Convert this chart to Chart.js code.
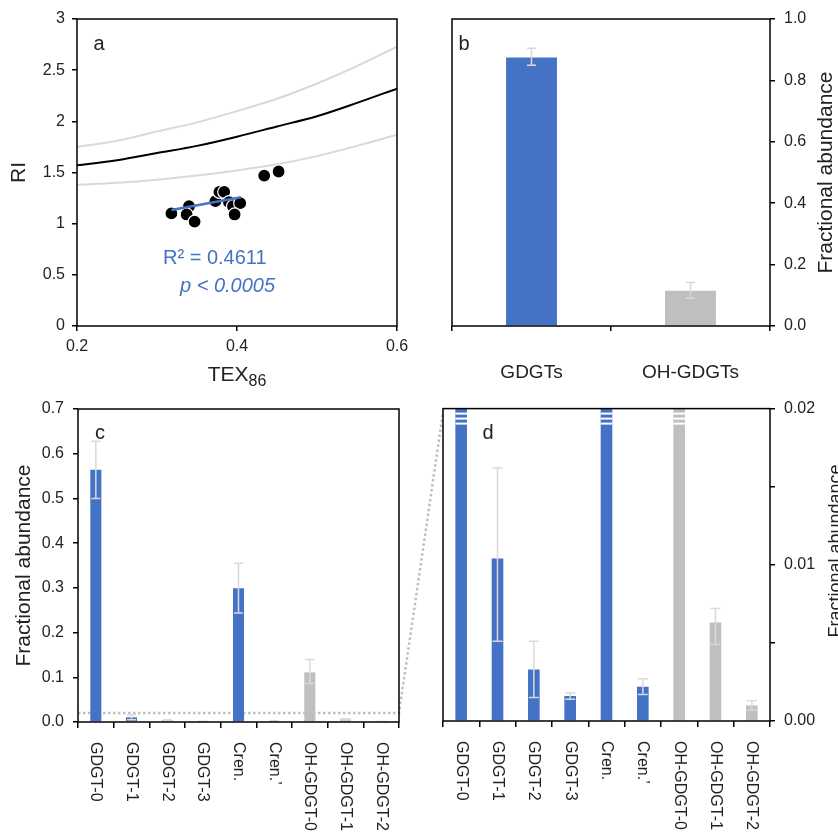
<!DOCTYPE html>
<html>
<head>
<meta charset="utf-8">
<script src="https://cdn.jsdelivr.net/npm/chart.js@4.4.1/dist/chart.umd.min.js"></script>
<style>
  body { margin: 0; background: #fff; }
  #fig { position: relative; width: 838px; height: 832px; overflow: hidden; }
  canvas { position: absolute; }
</style>
</head>
<body>
<div id="fig">
  <canvas id="panelA" width="420" height="390" style="left:0;top:0"></canvas>
  <canvas id="panelB" width="418" height="390" style="left:420px;top:0"></canvas>
  <canvas id="panelC" width="446" height="442" style="left:0;top:390px"></canvas>
  <canvas id="panelD" width="408" height="442" style="left:430px;top:390px"></canvas>
</div>
<script>
// (a) RI vs TEX86
const texGrid      = [0.20, 0.25, 0.30, 0.35, 0.40, 0.45, 0.50, 0.55, 0.60];
const riCurve      = [1.57, 1.62, 1.69, 1.76, 1.85, 1.95, 2.05, 2.18, 2.32];
const riCurveUpper = [1.75, 1.81, 1.90, 1.99, 2.10, 2.22, 2.37, 2.54, 2.73];
const riCurveLower = [1.38, 1.40, 1.43, 1.47, 1.52, 1.58, 1.66, 1.76, 1.87];
const sampleTex = [0.318, 0.340, 0.337, 0.347, 0.373, 0.378, 0.384, 0.390, 0.395, 0.404, 0.397, 0.434, 0.452];
const sampleRi  = [1.10, 1.17, 1.09, 1.02, 1.22, 1.31, 1.31, 1.21, 1.17, 1.20, 1.09, 1.47, 1.51];
const fitTex = [0.318, 0.405];
const fitRi  = [1.133, 1.258];

// (b) GDGTs vs OH-GDGTs
const groupLabels = ["GDGTs", "OH-GDGTs"];
const groupMean = [0.875, 0.115];
const groupLow  = [0.849, 0.090];
const groupHigh = [0.905, 0.142];

// (c)/(d) individual compounds
const compounds = ["GDGT-0", "GDGT-1", "GDGT-2", "GDGT-3", "Cren.", "Cren.\u2019", "OH-GDGT-0", "OH-GDGT-1", "OH-GDGT-2"];
const compoundMean = [0.564, 0.0104, 0.0033, 0.0016, 0.299, 0.0022, 0.111, 0.0063, 0.0010];
const compoundLow  = [0.500, 0.0051, 0.0015, 0.0014, 0.244, 0.0017, 0.086, 0.0049, 0.0007];
const compoundHigh = [0.628, 0.0162, 0.0051, 0.0018, 0.355, 0.0027, 0.140, 0.0072, 0.0013];
const zoomMax = 0.02;

const BLUE = "#4472C4", GREY = "#BFBFBF", ERR = "#D9D9D9", INK = "#222";
const FONT = "'Liberation Sans', Arial, sans-serif";

Chart.defaults.font.family = FONT;
Chart.defaults.color = INK;
Chart.defaults.animation = false;
Chart.defaults.plugins.legend.display = false;
Chart.defaults.plugins.tooltip.enabled = false;

const barColors = compounds.map(c => c.startsWith("OH") ? GREY : BLUE);
const xy = (xs, ys) => xs.map((x, i) => ({ x, y: ys[i] }));

function tickGrid(offset) {
  return { display: true, drawOnChartArea: false, drawTicks: true, tickLength: 5, color: "#000", lineWidth: 1.5, offset };
}

function frame() {
  return {
    id: "frame",
    afterDraw(chart) {
      const { ctx, chartArea: a } = chart;
      ctx.save();
      ctx.strokeStyle = "#000";
      ctx.lineWidth = 1.5;
      ctx.strokeRect(a.left, a.top, a.right - a.left, a.bottom - a.top);
      ctx.restore();
    }
  };
}

function errorBars(low, high, cap) {
  return {
    id: "errorBars",
    afterDatasetsDraw(chart) {
      const { ctx, chartArea: a } = chart;
      const y = chart.scales.y;
      ctx.save();
      ctx.beginPath();
      ctx.rect(a.left, a.top, a.right - a.left, a.bottom - a.top);
      ctx.clip();
      ctx.strokeStyle = ERR;
      ctx.lineWidth = 1.5;
      chart.getDatasetMeta(0).data.forEach((bar, i) => {
        const lo = y.getPixelForValue(low[i]), hi = y.getPixelForValue(high[i]);
        ctx.beginPath();
        ctx.moveTo(bar.x, lo); ctx.lineTo(bar.x, hi);
        ctx.moveTo(bar.x - cap, lo); ctx.lineTo(bar.x + cap, lo);
        ctx.moveTo(bar.x - cap, hi); ctx.lineTo(bar.x + cap, hi);
        ctx.stroke();
      });
      ctx.restore();
    }
  };
}

// category names written downwards under each bar
function downLabels(labels, gap) {
  return {
    id: "downLabels",
    afterDraw(chart) {
      const { ctx } = chart;
      const x = chart.scales.x, bottom = chart.chartArea.bottom;
      ctx.save();
      ctx.font = "16px " + FONT;
      ctx.fillStyle = INK;
      ctx.textAlign = "left";
      ctx.textBaseline = "middle";
      labels.forEach((t, i) => {
        ctx.save();
        ctx.translate(x.getPixelForValue(i), bottom + gap);
        ctx.rotate(Math.PI / 2);
        ctx.fillText(t, 0, 0);
        ctx.restore();
      });
      ctx.restore();
    }
  };
}

function sideTitle(ctx, text, x, y, size) {
  ctx.save();
  ctx.font = size + "px " + FONT;
  ctx.fillStyle = INK;
  ctx.textAlign = "center";
  ctx.textBaseline = "middle";
  ctx.translate(x, y);
  ctx.rotate(-Math.PI / 2);
  ctx.fillText(text, 0, 0);
  ctx.restore();
}

function panelLetter(ctx, text, x, y) {
  ctx.save();
  ctx.font = "20px " + FONT;
  ctx.fillStyle = INK;
  ctx.textAlign = "center";
  ctx.textBaseline = "middle";
  ctx.fillText(text, x, y);
  ctx.restore();
}

// ---- panel a ----
new Chart(document.getElementById("panelA"), {
  type: "scatter",
  data: {
    datasets: [
      { type: "line", data: xy(fitTex, fitRi), borderColor: BLUE, borderWidth: 2.5, pointRadius: 0 },
      { data: xy(sampleTex, sampleRi), pointRadius: 6.5, backgroundColor: "#000", borderColor: "#fff", borderWidth: 1.2 },
      { type: "line", data: xy(texGrid, riCurve), borderColor: "#000", borderWidth: 2, pointRadius: 0, cubicInterpolationMode: "monotone" },
      { type: "line", data: xy(texGrid, riCurveUpper), borderColor: ERR, borderWidth: 2, pointRadius: 0, cubicInterpolationMode: "monotone" },
      { type: "line", data: xy(texGrid, riCurveLower), borderColor: ERR, borderWidth: 2, pointRadius: 0, cubicInterpolationMode: "monotone" }
    ]
  },
  options: {
    responsive: false,
    layout: { padding: { left: 0, top: 19, right: 23, bottom: 0 } },
    scales: {
      x: {
        type: "linear", min: 0.2, max: 0.6,
        ticks: { stepSize: 0.2, font: { size: 16 }, padding: 6, callback: v => String(+v.toFixed(1)) },
        grid: tickGrid(false), border: { display: false },
        afterFit: s => { s.height = 64; }
      },
      y: {
        min: 0, max: 3,
        ticks: { stepSize: 0.5, font: { size: 16 }, padding: 7, callback: v => String(+v.toFixed(1)) },
        grid: tickGrid(false), border: { display: false },
        afterFit: s => { s.width = 77; }
      }
    }
  },
  plugins: [frame(), {
    id: "textA",
    afterDraw(chart) {
      const { ctx, chartArea: a } = chart;
      panelLetter(ctx, "a", a.left + 22, a.top + 25);
      sideTitle(ctx, "RI", 19, (a.top + a.bottom) / 2, 21);
      // TEX86 with subscript
      ctx.save();
      ctx.fillStyle = INK;
      ctx.textBaseline = "alphabetic";
      ctx.textAlign = "left";
      ctx.font = "21px " + FONT;
      const w1 = ctx.measureText("TEX").width;
      ctx.font = "16px " + FONT;
      const w2 = ctx.measureText("86").width;
      const x0 = (a.left + a.right) / 2 - (w1 + w2) / 2;
      ctx.font = "21px " + FONT;
      ctx.fillText("TEX", x0, 381);
      ctx.font = "16px " + FONT;
      ctx.fillText("86", x0 + w1, 386);
      // regression statistics
      ctx.fillStyle = BLUE;
      ctx.font = "20px " + FONT;
      ctx.textBaseline = "middle";
      ctx.fillText("R\u00B2 = 0.4611", 163, 258);
      ctx.font = "italic 20px " + FONT;
      ctx.fillText("p < 0.0005", 180, 286);
      ctx.restore();
    }
  }]
});

// ---- panel b ----
new Chart(document.getElementById("panelB"), {
  type: "bar",
  data: {
    labels: groupLabels,
    datasets: [{ data: groupMean, backgroundColor: [BLUE, GREY], barPercentage: 0.32, categoryPercentage: 1 }]
  },
  options: {
    responsive: false,
    layout: { padding: { left: 32, top: 19, right: 0, bottom: 0 } },
    scales: {
      x: {
        ticks: { font: { size: 19 }, padding: 30 },
        grid: tickGrid(true), border: { display: false },
        afterFit: s => { s.height = 64; }
      },
      y: {
        position: "right", min: 0, max: 1,
        ticks: { stepSize: 0.2, font: { size: 16 }, padding: 9, callback: v => v.toFixed(1) },
        grid: tickGrid(false), border: { display: false },
        afterFit: s => { s.width = 68; }
      }
    }
  },
  plugins: [errorBars(groupLow, groupHigh, 4.5), frame(), {
    id: "textB",
    afterDraw(chart) {
      const { ctx, chartArea: a } = chart;
      panelLetter(ctx, "b", a.left + 12, a.top + 25);
      sideTitle(ctx, "Fractional abundance", 406, (a.top + a.bottom) / 2, 21);
    }
  }]
});

// ---- panel d (zoomed view of c, bars above zoomMax are broken) ----
const dChart = new Chart(document.getElementById("panelD"), {
  type: "bar",
  data: {
    labels: compounds,
    datasets: [{ data: compoundMean, backgroundColor: barColors, barPercentage: 0.32, categoryPercentage: 1 }]
  },
  options: {
    responsive: false,
    layout: { padding: { left: 13, top: 18, right: 0, bottom: 0 } },
    scales: {
      x: {
        ticks: { display: false },
        grid: Object.assign(tickGrid(true), { tickLength: 6 }), border: { display: false },
        afterFit: s => { s.height = 111; }
      },
      y: {
        position: "right", min: 0, max: zoomMax,
        ticks: { stepSize: 0.005, font: { size: 16 }, padding: 9, callback: (v, i) => i % 2 ? "" : v.toFixed(2) },
        grid: tickGrid(false), border: { display: false },
        afterFit: s => { s.width = 68; }
      }
    }
  },
  plugins: [errorBars(compoundLow, compoundHigh, 5), {
    id: "breakMarks",
    afterDatasetsDraw(chart) {
      const { ctx, chartArea: a } = chart;
      const max = chart.scales.y.max;
      ctx.save();
      ctx.fillStyle = "#fff";
      chart.getDatasetMeta(0).data.forEach((bar, i) => {
        if (compoundMean[i] <= max) return;
        [4, 9, 14].forEach(off => ctx.fillRect(bar.x - bar.width / 2, a.top + off, bar.width, 2));
      });
      ctx.restore();
    }
  }, frame(), downLabels(compounds, 20), {
    id: "textD",
    afterDraw(chart) {
      const { ctx, chartArea: a } = chart;
      panelLetter(ctx, "d", a.left + 45, a.top + 25);
      sideTitle(ctx, "Fractional abundance", 406, 161, 18);
    }
  }]
});

// ---- panel c ----
new Chart(document.getElementById("panelC"), {
  type: "bar",
  data: {
    labels: compounds,
    datasets: [{ data: compoundMean, backgroundColor: barColors, barPercentage: 0.31, categoryPercentage: 1 }]
  },
  options: {
    responsive: false,
    layout: { padding: { left: 0, top: 19, right: 47, bottom: 0 } },
    scales: {
      x: {
        ticks: { display: false },
        grid: Object.assign(tickGrid(true), { tickLength: 6 }), border: { display: false },
        afterFit: s => { s.height = 110; }
      },
      y: {
        min: 0, max: 0.7,
        ticks: { stepSize: 0.1, font: { size: 16 }, padding: 9, callback: v => v.toFixed(1) },
        grid: tickGrid(false), border: { display: false },
        afterFit: s => { s.width = 78; }
      }
    }
  },
  plugins: [{
    // dotted guide at the zoom limit, running over to the corner of panel d
    id: "zoomGuide",
    beforeDatasetsDraw(chart) {
      const { ctx, chartArea: a } = chart;
      const y = chart.scales.y.getPixelForValue(zoomMax);
      const rc = chart.canvas.getBoundingClientRect();
      const rd = dChart.canvas.getBoundingClientRect();
      const tx = dChart.chartArea.left + rd.left - rc.left;
      const ty = dChart.scales.y.getPixelForValue(zoomMax) + rd.top - rc.top + 4;
      ctx.save();
      ctx.strokeStyle = GREY;
      ctx.lineWidth = 2.5;
      ctx.setLineDash([2.5, 2.5]);
      ctx.beginPath();
      ctx.moveTo(a.left, y);
      ctx.lineTo(a.right, y);
      ctx.lineTo(tx, ty);
      ctx.stroke();
      ctx.restore();
    }
  }, errorBars(compoundLow, compoundHigh, 4.5), frame(), downLabels(compounds, 20), {
    id: "textC",
    afterDraw(chart) {
      const { ctx, chartArea: a } = chart;
      panelLetter(ctx, "c", a.left + 22, a.top + 24);
      sideTitle(ctx, "Fractional abundance", 24, (a.top + a.bottom) / 2, 21);
    }
  }]
});
</script>
</body>
</html>
